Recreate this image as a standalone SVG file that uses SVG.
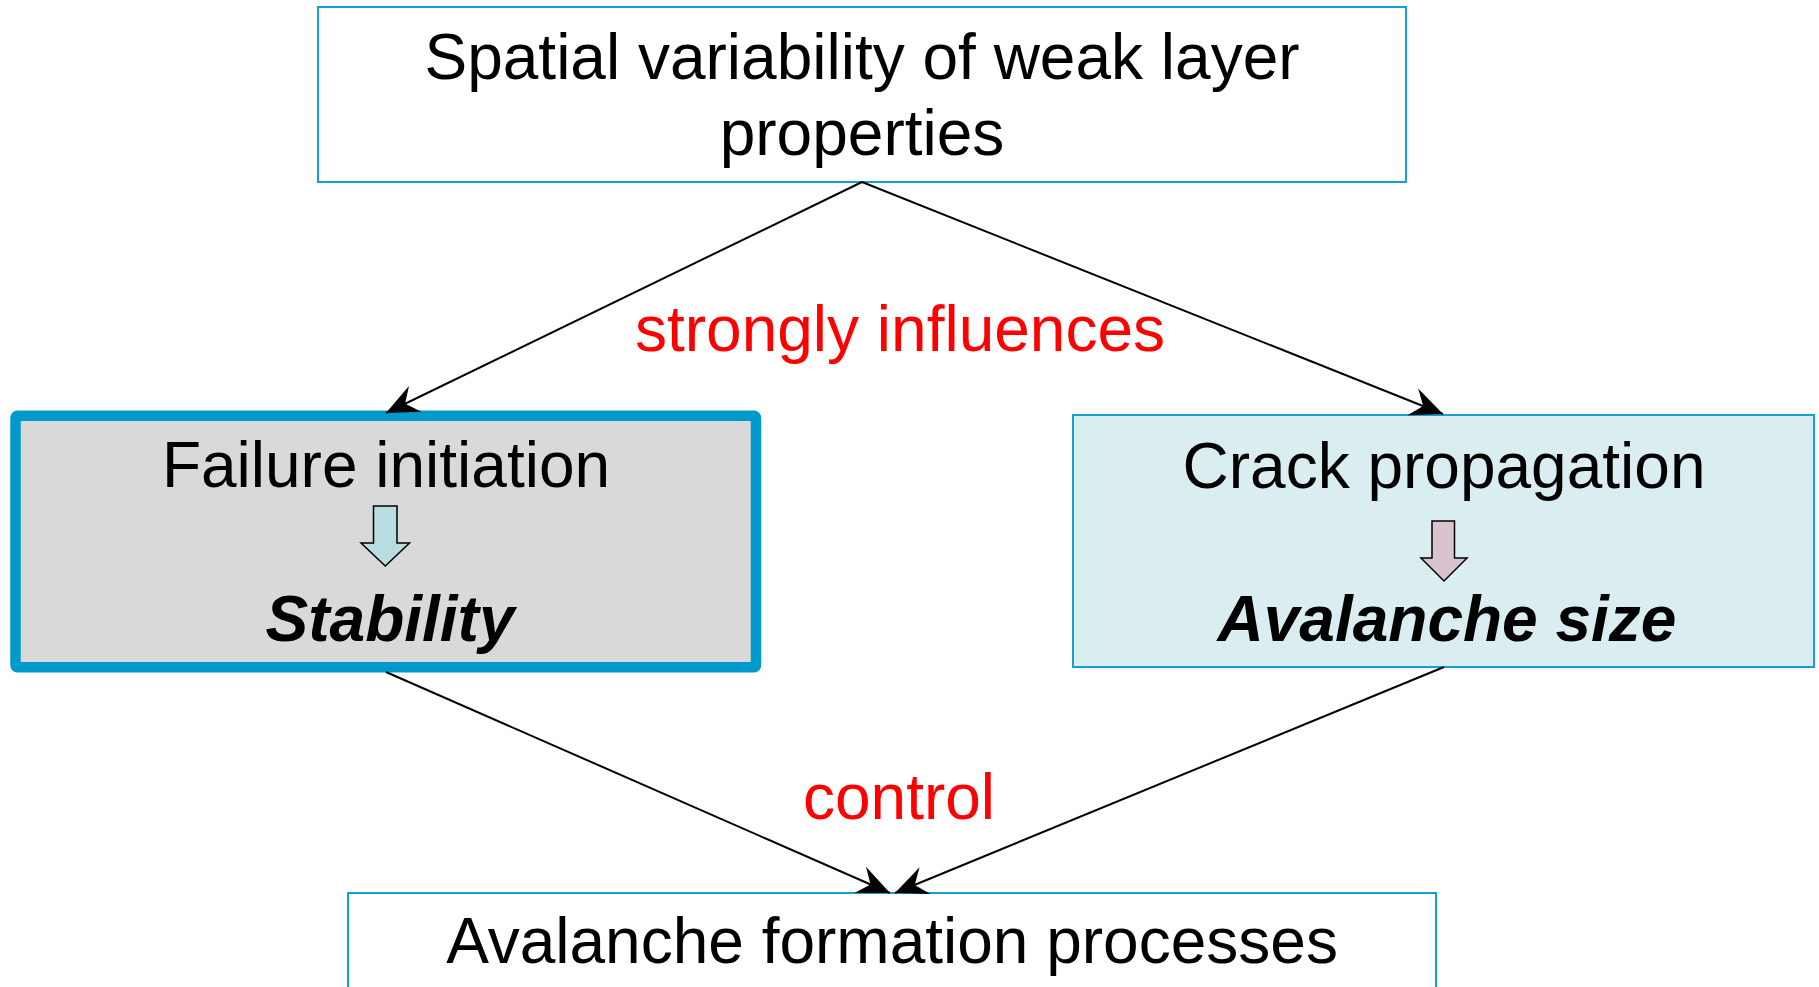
<svg xmlns="http://www.w3.org/2000/svg" width="1819" height="987" viewBox="0 0 1819 987">
<style>
.t{font-family:"Liberation Sans",Arial,sans-serif;font-size:64px;fill:#000;text-anchor:middle}
.bi{font-weight:bold;font-style:italic}
.red{fill:#ff0000}
.box{stroke:#159fd3;stroke-width:2}
.conn{stroke:#000;stroke-width:2;fill:none;marker-end:url(#ah)}
.blk{stroke:#000;stroke-width:1.5}
</style>
<defs>
<marker id="ah" markerUnits="userSpaceOnUse" orient="auto" refX="0" refY="0" markerWidth="40" markerHeight="40" viewBox="-30 -15 32 30" overflow="visible">
<path d="M0,0 L-26,-11.5 L-17,0 L-26,11.5 Z" fill="#000"/>
</marker>
</defs>
<rect width="1819" height="987" fill="#fff"/>
<g id="top">
<rect class="box" x="318" y="7" width="1088" height="175" fill="#fff"/>
<text class="t" x="862" y="79">Spatial variability of weak layer</text>
<text class="t" x="862" y="155">properties</text>
</g>
<g id="failure">
<rect x="15.5" y="415.8" width="740.5" height="251.5" rx="2" fill="#d9d9d9" stroke="#0099cc" stroke-width="10.5"/>
<text class="t" x="386" y="487">Failure initiation</text>
<path class="blk" d="M373.5,506 H397 V543 H409.5 L385.3,566 L361,543 H373.5 Z" fill="#b7dde0"/>
<text class="t bi" x="390" y="641">Stability</text>
</g>
<g id="crack">
<rect class="box" x="1073" y="415" width="741" height="252" fill="#daedf0"/>
<text class="t" x="1444" y="488">Crack propagation</text>
<path class="blk" d="M1432,521 H1454.5 V558 H1467 L1444,581 L1421,558 H1432 Z" fill="#d9c3ce"/>
<text class="t bi" x="1447" y="641">Avalanche size</text>
</g>
<g id="bottom">
<rect class="box" x="348" y="893" width="1088" height="110" fill="#fff"/>
<text class="t" x="892" y="963">Avalanche formation processes</text>
</g>
<g id="connectors">
<line class="conn" x1="862" y1="182" x2="386" y2="413"/>
<line class="conn" x1="862" y1="182" x2="1443" y2="414"/>
<line class="conn" x1="386" y1="672" x2="890" y2="893"/>
<line class="conn" x1="1444" y1="667" x2="895" y2="893"/>
</g>
<g id="labels">
<text class="t red" x="900" y="351">strongly influences</text>
<text class="t red" x="899" y="819">control</text>
</g>
</svg>
